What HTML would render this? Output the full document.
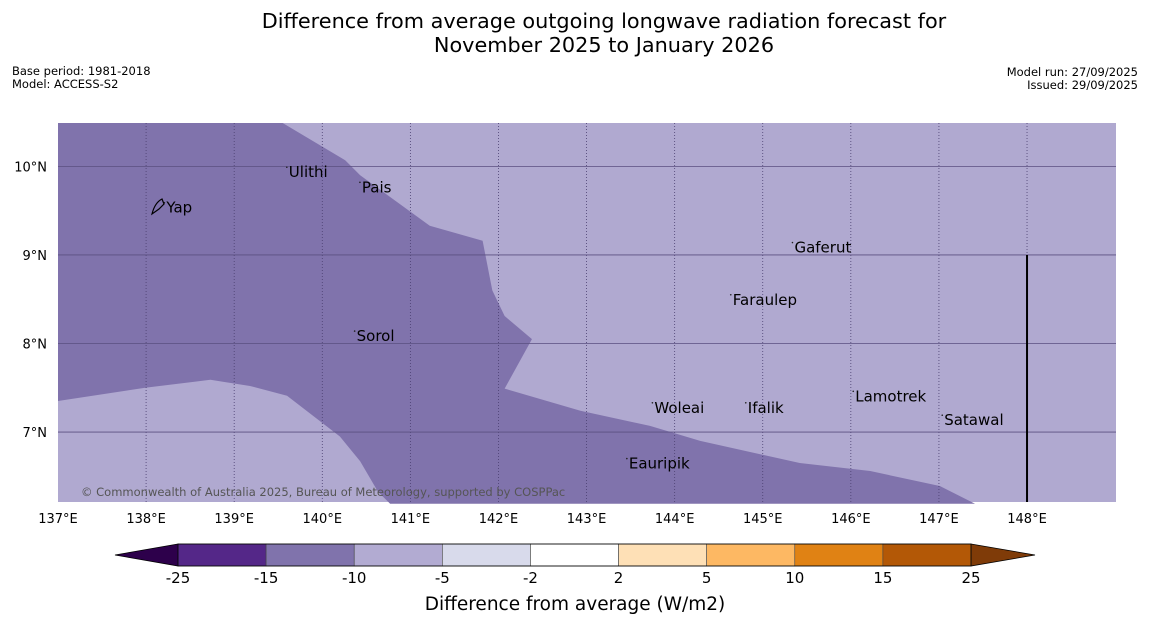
<!DOCTYPE html>
<html><head><meta charset="utf-8">
<style>
body{margin:0;background:#fff;width:1150px;height:644px;overflow:hidden;font-family:"DejaVu Sans","Liberation Sans",sans-serif;}
svg{position:absolute;left:0;top:0}
</style></head>
<body>
<svg id="c" width="1150" height="644" xmlns="http://www.w3.org/2000/svg">
<text x="604" y="28" text-anchor="middle" font-size="20.8">Difference from average outgoing longwave radiation forecast for</text>
<text x="604" y="52" text-anchor="middle" font-size="20.8">November 2025 to January 2026</text>
<text x="12" y="75" font-size="11.5">Base period: 1981-2018</text>
<text x="12" y="88" font-size="11.5">Model: ACCESS-S2</text>
<text x="1138" y="76" font-size="11.5" text-anchor="end">Model run: 27/09/2025</text>
<text x="1138" y="89" font-size="11.5" text-anchor="end">Issued: 29/09/2025</text>
<g id="map"></g>
<g id="cb"></g>
<text x="575" y="610" text-anchor="middle" font-size="18.5">Difference from average (W/m2)</text>
</svg>
<script>
const lonTicks=[137,138,139,140,141,142,143,144,145,146,147,148];
const latTicks=[7,8,9,10];
const contourLon=[137,139.55,140.26,140.43,141.22,141.82,141.93,142.07,142.38,142.07,142.93,143.72,144.29,145.42,146.22,147.01,147.41,140.77,140.63,140.43,140.20,139.60,139.18,138.73,137.99,137];
const contourLat=[10.49,10.49,10.07,9.90,9.33,9.16,8.60,8.31,8.05,7.49,7.24,7.07,6.90,6.65,6.56,6.39,6.19,6.19,6.33,6.67,6.95,7.41,7.52,7.59,7.50,7.35];
const placeNames=["Yap","Ulithi","Pais","Gaferut","Faraulep","Sorol","Woleai","Ifalik","Lamotrek","Satawal","Eauripik"];
const placeLon=[138.23,139.62,140.45,145.36,144.66,140.39,143.77,144.83,146.05,147.06,143.48];
const placeLat=[9.50,9.90,9.73,9.05,8.46,8.05,7.24,7.24,7.37,7.10,6.61];
const cbLevels=[-25,-15,-10,-5,-2,2,5,10,15,25];
const cbColors=["#542788","#8073ac","#b2abd2","#d8daeb","#ffffff","#fee0b6","#fdb863","#e08214","#b35806"];
const ns="http://www.w3.org/2000/svg";
const X0=58,X1=1116,Y0=123,Y1=502;
const lonMin=137,lonMax=149.01,latMin=6.21,latMax=10.49;
const xs=l=>X0+(l-lonMin)/(lonMax-lonMin)*(X1-X0);
const ys=l=>Y1-(l-latMin)/(latMax-latMin)*(Y1-Y0);
function mk(t,a,p){const e=document.createElementNS(ns,t);for(const k in a)e.setAttribute(k,a[k]);p.appendChild(e);return e;}
const map=document.getElementById('map');
const bg=mk('rect',{x:X0,y:Y0,width:X1-X0,height:Y1-Y0,fill:'#b0a9d0'},map);


const poly=mk('polygon',{points:contourLon.map((l,i)=>xs(l)+','+ys(contourLat[i])).join(' '),fill:'#8073ac'},map);


lonTicks.forEach(l=>{
 const x=xs(l);
 if(l>lonMin){const g=mk('line',{x1:x,x2:x,y1:Y0,y2:Y1,stroke:'#4a3f70','stroke-width':0.8,'stroke-dasharray':'1,2'},map);
 
 }
 const t=mk('text',{x:x,y:523,'text-anchor':'middle','font-size':13},map);t.textContent=l+'°E';
 
 
});
latTicks.forEach(l=>{
 const y=ys(l);
 const g=mk('line',{x1:X0,x2:X1,y1:y,y2:y,stroke:'#5a4f80','stroke-width':0.8},map);
 
 
 const t=mk('text',{x:47,y:y+5,'text-anchor':'end','font-size':13},map);t.textContent=l+'°N';
 
 
});
const vl=mk('line',{x1:xs(148),x2:xs(148),y1:ys(9),y2:Y1,stroke:'#000','stroke-width':2},map);


placeNames.forEach((n,i)=>{
 const x=xs(placeLon[i]),y=ys(placeLat[i]);
 const d=mk('circle',{cx:x-2,cy:y-8,r:0.8,fill:'#222'},map);
 
 
 const t=mk('text',{x:x,y:y+2,'font-size':15,fill:'#000'},map);t.textContent=n;
 
 
});
const yi=mk('path',{d:'M152,214 C154,206 158,201 162,199 L164,204 L159,209 Z',fill:'none',stroke:'#000','stroke-width':1.2},map);


const cr=mk('text',{x:81,y:496,'font-size':11.5,fill:'#555'},map);cr.textContent='© Commonwealth of Australia 2025, Bureau of Meteorology, supported by COSPPac';


const cb=document.getElementById('cb');
const CX0=178,CX1=971,CY0=544,CY1=566;
const bw=(CX1-CX0)/cbColors.length;
const el=mk('polygon',{points:`${CX0},${CY0} 115,555 ${CX0},${CY1}`,fill:'#2d004b',stroke:'#000','stroke-width':0.8},cb);


const er=mk('polygon',{points:`${CX1},${CY0} 1035,555 ${CX1},${CY1}`,fill:'#7f3b08',stroke:'#000','stroke-width':0.8},cb);


cbColors.forEach((c,i)=>{
 const r=mk('rect',{x:CX0+i*bw,y:CY0,width:bw,height:CY1-CY0,fill:c,stroke:'#444','stroke-width':0.6},cb);
 
 
});
mk('rect',{x:CX0,y:CY0,width:CX1-CX0,height:CY1-CY0,fill:'none',stroke:'#000','stroke-width':0.8},cb);
cbLevels.forEach((v,i)=>{
 const t=mk('text',{x:CX0+i*bw,y:583,'text-anchor':'middle','font-size':15},cb);t.textContent=v;
 
 
});
</script>
</body></html>
